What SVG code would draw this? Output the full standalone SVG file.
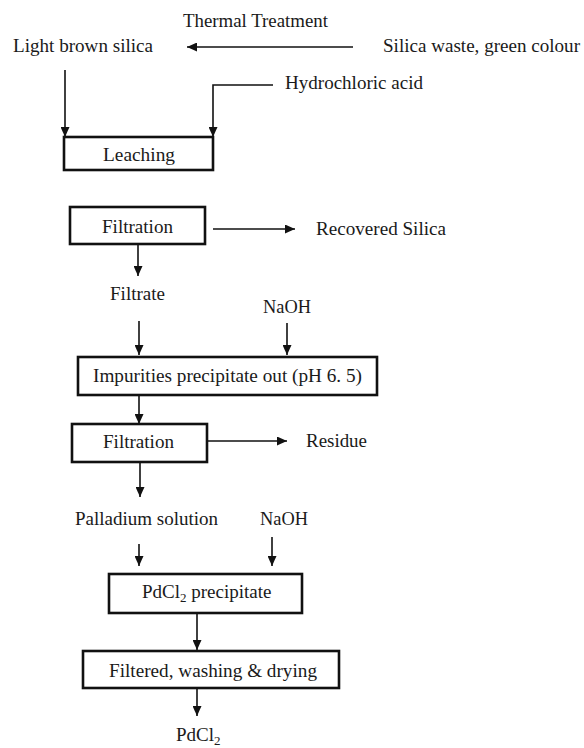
<svg xmlns="http://www.w3.org/2000/svg" width="584" height="748" viewBox="0 0 584 748">
<defs>
<marker id="ah" markerUnits="userSpaceOnUse" markerWidth="10" markerHeight="9" refX="10" refY="4.5" orient="auto">
<path d="M0,0 L10,4.5 L0,9 z" fill="#111"/>
</marker>
<style>
text{font-family:"Liberation Serif","Times New Roman",serif;font-size:19px;fill:#1a1a1a}
.box{fill:#fff;stroke:#111;stroke-width:2.6}
.c{fill:none;stroke:#111;stroke-width:1.6}
.a{fill:none;stroke:#111;stroke-width:1.6;marker-end:url(#ah)}
</style>
</defs>
<rect width="584" height="748" fill="#fff"/>
<g id="connectors">
<line class="a" x1="353" y1="47" x2="187" y2="47"/>
<line class="a" x1="65" y1="70" x2="65" y2="137"/>
<polyline class="a" points="273,85 213,85 213,137"/>
<line class="a" x1="138" y1="244" x2="138" y2="276"/>
<line class="a" x1="213" y1="229" x2="295" y2="229"/>
<line class="a" x1="139" y1="321" x2="139" y2="355"/>
<line class="a" x1="287" y1="323" x2="287" y2="355"/>
<line class="a" x1="139" y1="395" x2="139" y2="424"/>
<line class="a" x1="207" y1="441" x2="287" y2="441"/>
<line class="a" x1="140" y1="462" x2="140" y2="497"/>
<line class="a" x1="139" y1="544" x2="139" y2="566"/>
<line class="a" x1="272" y1="537" x2="272" y2="566"/>
<line class="a" x1="197" y1="613" x2="197" y2="650"/>
<line class="a" x1="197" y1="688" x2="197" y2="716"/>
</g>
<g id="thermal"><text x="183" y="27" textLength="145" lengthAdjust="spacingAndGlyphs">Thermal Treatment</text></g>
<g id="light-brown"><text x="13" y="52" textLength="140" lengthAdjust="spacingAndGlyphs">Light brown silica</text></g>
<g id="silica-waste"><text x="383" y="52" textLength="197" lengthAdjust="spacingAndGlyphs">Silica waste, green colour</text></g>
<g id="hcl"><text x="285" y="89" textLength="138" lengthAdjust="spacingAndGlyphs">Hydrochloric acid</text></g>
<g id="leaching"><rect class="box" x="64" y="137" width="149" height="33"/><text x="103" y="161" textLength="72" lengthAdjust="spacingAndGlyphs">Leaching</text></g>
<g id="filtration1"><rect class="box" x="70" y="207" width="135" height="37"/><text x="102" y="233" textLength="71" lengthAdjust="spacingAndGlyphs">Filtration</text></g>
<g id="recovered"><text x="316" y="235" textLength="130" lengthAdjust="spacingAndGlyphs">Recovered Silica</text></g>
<g id="filtrate"><text x="110" y="300" textLength="55" lengthAdjust="spacingAndGlyphs">Filtrate</text></g>
<g id="naoh1"><text x="263" y="313" textLength="48" lengthAdjust="spacingAndGlyphs">NaOH</text></g>
<g id="impurities"><rect class="box" x="78" y="357" width="299" height="38"/><text x="93" y="382" textLength="269" lengthAdjust="spacingAndGlyphs">Impurities precipitate out (pH 6. 5)</text></g>
<g id="filtration2"><rect class="box" x="72" y="424" width="135" height="38"/><text x="103" y="448" textLength="71" lengthAdjust="spacingAndGlyphs">Filtration</text></g>
<g id="residue"><text x="306" y="447" textLength="61" lengthAdjust="spacingAndGlyphs">Residue</text></g>
<g id="palladium"><text x="75" y="525" textLength="143" lengthAdjust="spacingAndGlyphs">Palladium solution</text></g>
<g id="naoh2"><text x="260" y="525" textLength="48" lengthAdjust="spacingAndGlyphs">NaOH</text></g>
<g id="pdcl2-precipitate"><rect class="box" x="109" y="574" width="193" height="39"/><text x="142" y="598">PdCl<tspan font-size="13" dy="4">2</tspan><tspan dy="-4"> precipitate</tspan></text></g>
<g id="filtered"><rect class="box" x="83" y="651" width="256" height="37"/><text x="109" y="677" textLength="208" lengthAdjust="spacingAndGlyphs">Filtered, washing &amp; drying</text></g>
<g id="pdcl2"><text x="176" y="741">PdCl<tspan font-size="13" dy="4">2</tspan></text></g>
</svg>
